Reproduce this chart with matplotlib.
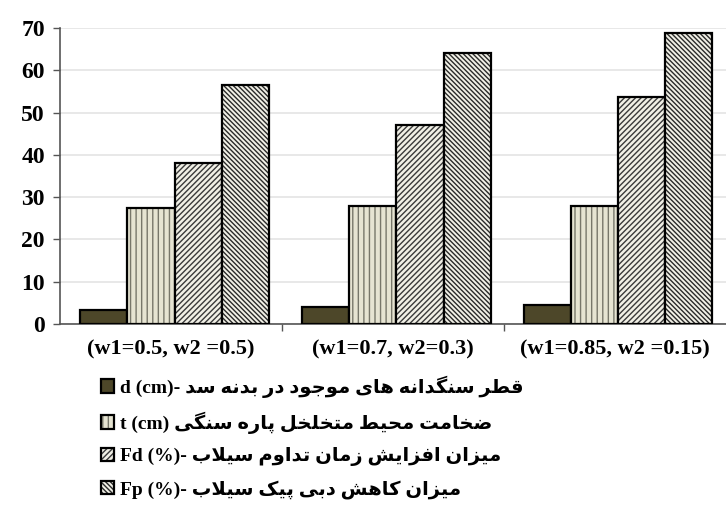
import matplotlib
matplotlib.use("Agg")
import matplotlib.pyplot as plt
import numpy as np

categories = ["(w1=0.5, w2 =0.5)", "(w1=0.7, w2=0.3)", "(w1=0.85, w2 =0.15)"]
d_cm = [3.4, 4.0, 4.5]
t_cm = [27.4, 27.8, 27.8]
fd_pct = [38.0, 47.0, 53.6]
fp_pct = [56.5, 64.0, 68.7]

series_latin = ["d (cm)-", "t (cm)", "Fd (%)-", "Fp (%)-"]
series_fa = [
    "قطر سنگدانه های موجود در بدنه سد",
    "ضخامت محیط متخلخل پاره سنگی",
    "میزان افزایش زمان تداوم سیلاب",
    "میزان کاهش دبی پیک سیلاب",
]
y_ticks = [0, 10, 20, 30, 40, 50, 60, 70]

# --- minimal Persian shaping (presentation forms + visual order) ---
FORMS = {  # isolated, final, initial, medial
    "ا": (0xFE8D, 0xFE8E, None, None),
    "ب": (0xFE8F, 0xFE90, 0xFE91, 0xFE92),
    "پ": (0xFB56, 0xFB57, 0xFB58, 0xFB59),
    "ت": (0xFE95, 0xFE96, 0xFE97, 0xFE98),
    "ج": (0xFE9D, 0xFE9E, 0xFE9F, 0xFEA0),
    "ح": (0xFEA1, 0xFEA2, 0xFEA3, 0xFEA4),
    "خ": (0xFEA5, 0xFEA6, 0xFEA7, 0xFEA8),
    "د": (0xFEA9, 0xFEAA, None, None),
    "ر": (0xFEAD, 0xFEAE, None, None),
    "ز": (0xFEAF, 0xFEB0, None, None),
    "س": (0xFEB1, 0xFEB2, 0xFEB3, 0xFEB4),
    "ش": (0xFEB5, 0xFEB6, 0xFEB7, 0xFEB8),
    "ض": (0xFEBD, 0xFEBE, 0xFEBF, 0xFEC0),
    "ط": (0xFEC1, 0xFEC2, 0xFEC3, 0xFEC4),
    "ف": (0xFED1, 0xFED2, 0xFED3, 0xFED4),
    "ق": (0xFED5, 0xFED6, 0xFED7, 0xFED8),
    "ک": (0xFB8E, 0xFB8F, 0xFB90, 0xFB91),
    "گ": (0xFB92, 0xFB93, 0xFB94, 0xFB95),
    "ل": (0xFEDD, 0xFEDE, 0xFEDF, 0xFEE0),
    "م": (0xFEE1, 0xFEE2, 0xFEE3, 0xFEE4),
    "ن": (0xFEE5, 0xFEE6, 0xFEE7, 0xFEE8),
    "ه": (0xFEE9, 0xFEEA, 0xFEEB, 0xFEEC),
    "و": (0xFEED, 0xFEEE, None, None),
    "ی": (0xFBFC, 0xFBFD, 0xFBFE, 0xFBFF),
    "لا": (0xFEFB, 0xFEFC, None, None),
}


def shape_fa(text):
    # merge lam-alef into a single unit
    units = []
    i = 0
    while i < len(text):
        if text[i] == "ل" and i + 1 < len(text) and text[i + 1] == "ا":
            units.append("لا")
            i += 2
        else:
            units.append(text[i])
            i += 1
    out = []
    for k, u in enumerate(units):
        if u not in FORMS:
            out.append(u)
            continue
        prev = units[k - 1] if k > 0 else None
        nxt = units[k + 1] if k + 1 < len(units) else None
        joins_prev = prev in FORMS and FORMS[prev][2] is not None
        joins_next = FORMS[u][2] is not None and nxt in FORMS
        iso, fin, ini, med = FORMS[u]
        if joins_prev and joins_next:
            ch = med
        elif joins_prev:
            ch = fin
        elif joins_next:
            ch = ini
        else:
            ch = iso
        out.append(chr(ch))
    return "".join(reversed(out))


fig = plt.figure(figsize=(7.26, 5.27), dpi=100)
ax = fig.add_axes([0.083, 0.385, 0.917, 0.562])

x = np.arange(len(categories)) + 0.5
w = 0.212
offsets = np.array([-1.5, -0.5, 0.5, 1.5]) * w + 0.015
series = [d_cm, t_cm, fd_pct, fp_pct]
faces = ["#4d4729", "#e6e4d2", "#f1f0e6", "#f1f0e6"]
hatches = [None, "|||", "//////", "\\\\\\\\\\\\\\"]
hatch_cols = ["#4d4729", "#77776a", "#3a3a3a", "#2a2a2a"]

bars = []
for vals, off, fc, hc, hcol in zip(series, offsets, faces, hatches, hatch_cols):
    b = ax.bar(x + off, vals, width=w, color=fc, edgecolor="black",
               linewidth=1.6, hatch=hc, zorder=3)
    for p in b:
        p._hatch_color = matplotlib.colors.to_rgba(hcol)
    bars.append(b)

ax.set_xlim(0, 3)
ax.set_ylim(0, 70)
ax.set_yticks(y_ticks)
ax.set_xticks([1, 2], minor=False)
ax.set_xticks(x, minor=True)
ax.set_xticklabels([], minor=False)
ax.set_xticklabels(categories, minor=True)
ax.tick_params(axis="x", which="major", length=5, width=1, color="#555555", direction="out")
ax.tick_params(axis="x", which="minor", length=0, pad=11)
ax.tick_params(axis="y", length=5, width=1, color="#555555", pad=6)
for lab in ax.get_yticklabels():
    lab.set_fontfamily("Liberation Serif")
    lab.set_fontweight("bold")
    lab.set_fontsize(17)
for lab in ax.get_xticklabels(minor=True):
    lab.set_fontfamily("Liberation Serif")
    lab.set_fontweight("bold")
    lab.set_fontsize(16)

ax.grid(axis="y", color="#e4e4e4", linewidth=1.2, zorder=0)
for s in ["top", "right"]:
    ax.spines[s].set_visible(False)
ax.spines["left"].set_color("#555555")
ax.spines["bottom"].set_color("#555555")
ax.spines["left"].set_linewidth(1.2)
ax.spines["bottom"].set_linewidth(1.2)

labels = [lat + " " + shape_fa(fa) for lat, fa in zip(series_latin, series_fa)]
leg = fig.legend([b[0] for b in bars], labels, loc="upper left",
                 bbox_to_anchor=(0.128, 0.302), frameon=False,
                 handlelength=0.7, handleheight=0.7, handletextpad=0.3,
                 labelspacing=0.7, borderaxespad=0,
                 prop={"family": ["Liberation Serif", "DejaVu Sans"],
                       "weight": "bold", "size": 14})

fig.savefig("out.png", dpi=100)
